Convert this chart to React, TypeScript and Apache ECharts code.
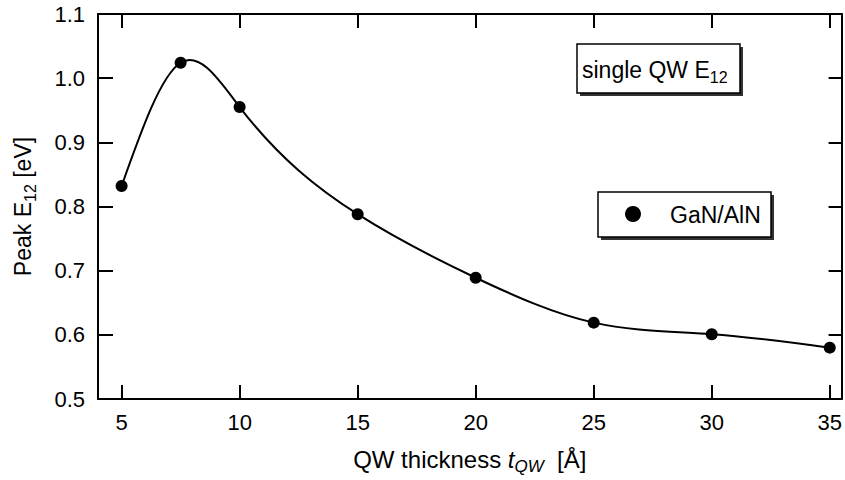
import React, { useEffect, useRef } from "react";
import * as echarts from "echarts";

const thickness = [5, 7.5, 10, 15, 20, 25, 30, 35];
const peakE12 = [0.832, 1.024, 0.955, 0.788, 0.689, 0.619, 0.601, 0.58];
const xTicks = [5, 10, 15, 20, 25, 30, 35];
const yTicks = [0.5, 0.6, 0.7, 0.8, 0.9, 1.0, 1.1];
const legendTitle = "single QW E";
const legendTitleSub = "12";
const seriesName = "GaN/AlN";

const FONT = "'Liberation Sans', Arial, sans-serif";

// natural cubic spline second derivatives (drawing helper, the curve passes through the data)
function splineSecondDerivs(xs: number[], ys: number[]): number[] {
  const n = xs.length;
  const M = new Array(n).fill(0);
  if (n < 3) return M;
  const a: number[] = [], b: number[] = [], c: number[] = [], r: number[] = [];
  for (let i = 1; i < n - 1; i++) {
    const h0 = xs[i] - xs[i - 1];
    const h1 = xs[i + 1] - xs[i];
    a.push(h0 / 6);
    b.push((h0 + h1) / 3);
    c.push(h1 / 6);
    r.push((ys[i + 1] - ys[i]) / h1 - (ys[i] - ys[i - 1]) / h0);
  }
  const m = r.length;
  for (let i = 1; i < m; i++) {
    const w = a[i] / b[i - 1];
    b[i] -= w * c[i - 1];
    r[i] -= w * r[i - 1];
  }
  const sol = new Array(m).fill(0);
  sol[m - 1] = r[m - 1] / b[m - 1];
  for (let i = m - 2; i >= 0; i--) sol[i] = (r[i] - c[i] * sol[i + 1]) / b[i];
  for (let i = 0; i < m; i++) M[i + 1] = sol[i];
  return M;
}

export default function App() {
  const ref = useRef<HTMLDivElement>(null);
  useEffect(() => {
    if (!ref.current) return;
    const chart = echarts.init(ref.current, null, { renderer: "svg" });
    const M = splineSecondDerivs(thickness, peakE12);
    const axisLineStyle = { color: "#000", width: 2 };
    const tickStyle = { color: "#000", width: 2 };
    const points = thickness.map((x, i) => [x, peakE12[i]]);
    chart.setOption({
      animation: false,
      backgroundColor: "#fff",
      textStyle: { fontFamily: FONT },
      grid: { left: 98, right: 2, top: 14, bottom: 78, containLabel: false },
      xAxis: [
        {
          type: "value",
          position: "bottom",
          min: 4,
          max: 35.5,
          interval: 5,
          axisLine: { show: true, onZero: false, lineStyle: axisLineStyle },
          axisTick: { show: true, inside: true, length: 14, lineStyle: tickStyle, customValues: xTicks },
          axisLabel: {
            color: "#000",
            fontSize: 22,
            fontFamily: FONT,
            margin: 12,
            customValues: xTicks,
            formatter: (v: number) => String(v),
          },
          splitLine: { show: false },
          name: "{n|QW thickness }{it|t}{sub|QW}{n|  [Å]}",
          nameLocation: "middle",
          nameGap: 44,
          nameTextStyle: {
            color: "#000",
            fontSize: 24,
            fontFamily: FONT,
            rich: {
              n: { fontSize: 24, fontFamily: FONT, color: "#000", lineHeight: 32 },
              it: { fontSize: 24, fontStyle: "italic", fontFamily: FONT, color: "#000", lineHeight: 32 },
              sub: { fontSize: 17, fontStyle: "italic", fontFamily: FONT, color: "#000", verticalAlign: "bottom", lineHeight: 18 },
            },
          },
        },
        {
          type: "value",
          position: "top",
          min: 4,
          max: 35.5,
          interval: 5,
          axisLine: { show: true, onZero: false, lineStyle: axisLineStyle },
          axisTick: { show: true, inside: true, length: 14, lineStyle: tickStyle, customValues: xTicks },
          axisLabel: { show: false },
          splitLine: { show: false },
        },
      ],
      yAxis: [
        {
          type: "value",
          position: "left",
          min: 0.5,
          max: 1.1,
          interval: 0.1,
          axisLine: { show: true, onZero: false, lineStyle: axisLineStyle },
          axisTick: { show: true, inside: true, length: 15, lineStyle: tickStyle },
          axisLabel: {
            color: "#000",
            fontSize: 22,
            fontFamily: FONT,
            margin: 13,
            customValues: yTicks,
            formatter: (v: number) => v.toFixed(1),
          },
          splitLine: { show: false },
          name: "{n|Peak E}{sub|12}{n| [eV]}",
          nameLocation: "middle",
          nameRotate: 90,
          nameGap: 60,
          nameTextStyle: {
            color: "#000",
            fontSize: 23,
            fontFamily: FONT,
            rich: {
              n: { fontSize: 23, fontFamily: FONT, color: "#000", lineHeight: 31 },
              sub: { fontSize: 16, fontFamily: FONT, color: "#000", verticalAlign: "bottom", lineHeight: 17 },
            },
          },
        },
        {
          type: "value",
          position: "right",
          min: 0.5,
          max: 1.1,
          interval: 0.1,
          axisLine: { show: true, onZero: false, lineStyle: axisLineStyle },
          axisTick: { show: true, inside: true, length: 13, lineStyle: tickStyle },
          axisLabel: { show: false },
          splitLine: { show: false },
        },
      ],
      series: [
        {
          name: seriesName + " spline",
          type: "custom",
          xAxisIndex: 0,
          yAxisIndex: 0,
          data: points,
          encode: { x: 0, y: 1 },
          silent: true,
          renderItem: (params: any, api: any) => {
            const i = params.dataIndex;
            if (i >= thickness.length - 1) return { type: "group", children: [] };
            const x0 = thickness[i], x1 = thickness[i + 1];
            const y0 = peakE12[i], y1 = peakE12[i + 1];
            const h = x1 - x0;
            const sec = (y1 - y0) / h;
            const d0 = sec - (h * (2 * M[i] + M[i + 1])) / 6;
            const d1 = sec + (h * (M[i] + 2 * M[i + 1])) / 6;
            const p0 = api.coord([x0, y0]);
            const c1 = api.coord([x0 + h / 3, y0 + (d0 * h) / 3]);
            const c2 = api.coord([x1 - h / 3, y1 - (d1 * h) / 3]);
            const p1 = api.coord([x1, y1]);
            return {
              type: "bezierCurve",
              shape: {
                x1: p0[0], y1: p0[1],
                x2: p1[0], y2: p1[1],
                cpx1: c1[0], cpy1: c1[1],
                cpx2: c2[0], cpy2: c2[1],
              },
              style: { stroke: "#000", lineWidth: 2, fill: null },
            };
          },
          z: 2,
        },
        {
          name: seriesName,
          type: "scatter",
          xAxisIndex: 0,
          yAxisIndex: 0,
          data: points,
          symbol: "circle",
          symbolSize: 12,
          itemStyle: { color: "#000", opacity: 1 },
          z: 3,
        },
      ],
      graphic: [
        { type: "rect", shape: { x: 580, y: 47, width: 163, height: 49 }, style: { fill: "#333" } },
        {
          type: "rect",
          shape: { x: 577, y: 44, width: 163, height: 49 },
          style: { fill: "#fff", stroke: "#000", lineWidth: 1.5 },
        },
        {
          type: "text",
          x: 582,
          y: 70,
          style: {
            text: `{m|${legendTitle}}{s|${legendTitleSub}}`,
            fill: "#000",
            verticalAlign: "middle",
            align: "left",
            rich: {
              m: { fontSize: 23, fontFamily: FONT, fill: "#000", lineHeight: 31 },
              s: { fontSize: 16, fontFamily: FONT, fill: "#000", verticalAlign: "bottom", lineHeight: 17 },
            },
          },
        },
        { type: "rect", shape: { x: 601, y: 195, width: 173, height: 45 }, style: { fill: "#333" } },
        {
          type: "rect",
          shape: { x: 598, y: 192, width: 173, height: 45 },
          style: { fill: "#fff", stroke: "#000", lineWidth: 1.5 },
        },
        { type: "circle", shape: { cx: 633, cy: 214, r: 8 }, style: { fill: "#000" } },
        {
          type: "text",
          x: 670,
          y: 215,
          style: {
            text: seriesName,
            fill: "#000",
            font: `23px ${FONT}`,
            verticalAlign: "middle",
            align: "left",
          },
        },
      ],
    });
    return () => chart.dispose();
  }, []);
  return <div ref={ref} style={{ width: 845, height: 480, position: "absolute", left: 0, top: 0 }} />;
}
